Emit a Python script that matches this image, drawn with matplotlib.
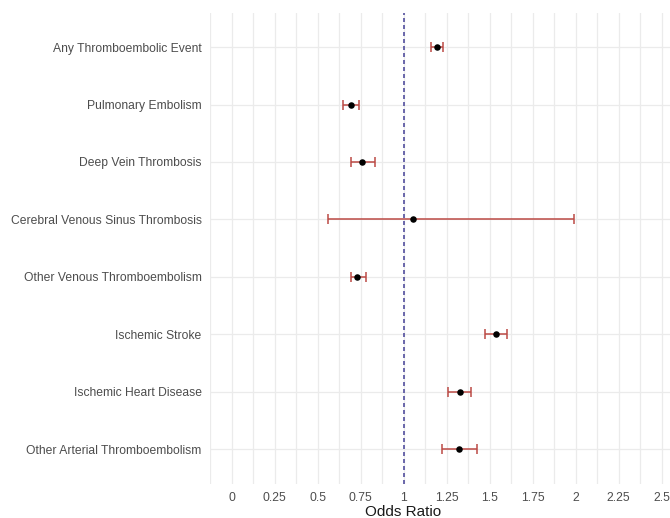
import matplotlib
matplotlib.use("Agg")
import matplotlib.pyplot as plt
import numpy as np

categories = ["Any Thromboembolic Event", "Pulmonary Embolism", "Deep Vein Thrombosis",
              "Cerebral Venous Sinus Thrombosis", "Other Venous Thromboembolism",
              "Ischemic Stroke", "Ischemic Heart Disease", "Other Arterial Thromboembolism"]
odds_ratio = [1.192, 0.692, 0.758, 1.054, 0.729, 1.535, 1.331, 1.320]
ci_lower = [1.157, 0.649, 0.692, 0.562, 0.694, 1.471, 1.260, 1.221]
ci_upper = [1.227, 0.744, 0.835, 1.994, 0.781, 1.603, 1.391, 1.428]
x_ticks = [0, 0.25, 0.5, 0.75, 1, 1.25, 1.5, 1.75, 2, 2.25, 2.5]
x_tick_labels = ["0", "0.25", "0.5", "0.75", "1", "1.25", "1.5", "1.75", "2", "2.25", "2.5"]

plt.rcParams['font.family'] = ['Liberation Sans', 'DejaVu Sans']

W, H = 670, 518
fig = plt.figure(figsize=(W / 100, H / 100), dpi=100)
left_px, right_px, top_px, bot_px = 210, 683, 12.6, 483.6
ax = fig.add_axes([left_px / W, 1 - bot_px / H, (right_px - left_px) / W, (bot_px - top_px) / H])

n = len(categories)
y = np.arange(n)[::-1]

ax.set_xlim(-0.125, 2.625)
ax.set_ylim(-0.6, n - 1 + 0.6)

grid_c = "#EBEBEB"
for xv in np.arange(-0.125, 2.626, 0.125):
    ax.axvline(xv, color=grid_c, lw=0.9, zorder=0)
for yv in y:
    ax.axhline(yv, color=grid_c, lw=0.9, zorder=0)

ax.axvline(1, color="#524E9E", lw=1.2, ls=(0, (2.4, 1.8)), zorder=1)

err_c = "#BC4A45"
lo = np.array(odds_ratio) - np.array(ci_lower)
hi = np.array(ci_upper) - np.array(odds_ratio)
ax.errorbar(odds_ratio, y, xerr=[lo, hi], fmt='none', ecolor=err_c, elinewidth=1.1,
            capsize=3.8, capthick=1.1, zorder=2)
ax.scatter(odds_ratio, y, s=22, color="black", zorder=3, linewidths=0)

ax.set_yticks(y)
ax.set_yticklabels(categories, fontsize=8.7, color="#4D4D4D")
ax.set_xticks(x_ticks)
ax.set_xticklabels(x_tick_labels, fontsize=8.8, color="#4D4D4D")
ax.tick_params(length=0, pad=6)
ax.tick_params(axis='y', pad=6)
for s in ax.spines.values():
    s.set_visible(False)

fig.text((403.3) / W, 1 - 512 / H, "Odds Ratio", ha="center", va="center", fontsize=11, color="#1A1A1A")

fig.savefig("out.png", dpi=100)
